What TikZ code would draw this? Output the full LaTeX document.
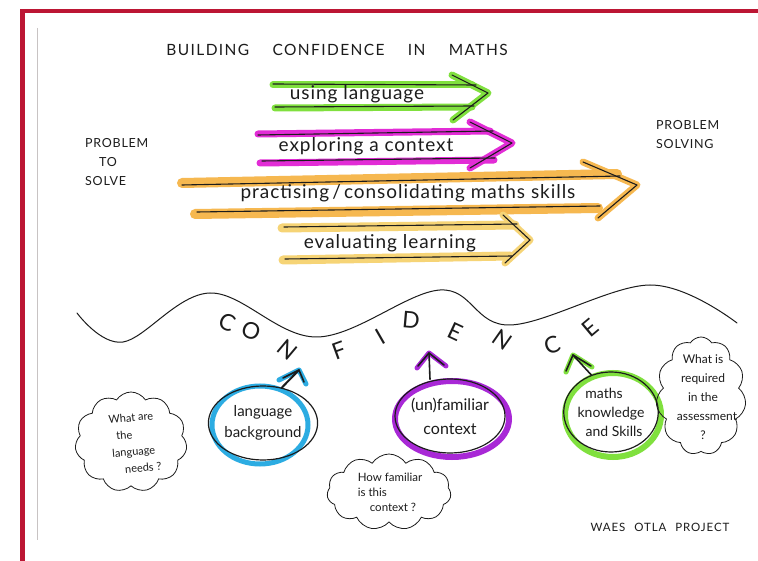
\documentclass[tikz,border=0pt]{standalone}
\usepackage{fontspec}
\setmainfont{Lato}
\usetikzlibrary{shapes.geometric,shapes.symbols,calc}

\definecolor{frame}{RGB}{188,22,52}
\definecolor{ink}{RGB}{28,28,28}
\definecolor{hlgreen}{RGB}{128,224,62}
\definecolor{hlmagenta}{RGB}{226,44,214}
\definecolor{hlorange}{RGB}{246,184,80}
\definecolor{hlyellow}{RGB}{246,212,118}
\definecolor{hlblue}{RGB}{44,172,226}
\definecolor{hlpurple}{RGB}{168,40,214}
\definecolor{paperedge}{RGB}{200,195,195}

\tikzset{
  hl/.style={line width=7pt, line cap=round, line join=round},
  pen/.style={draw=ink, line width=1.1pt, line cap=round, line join=round},
  thin pen/.style={draw=ink, line width=0.8pt, line cap=round, line join=round},
  hand/.style={text=ink, inner sep=0pt, font=\fontsize{19}{22}\selectfont\addfontfeature{LetterSpace=5}},
  caps/.style={text=ink, inner sep=0pt, font=\fontsize{12.5}{20}\selectfont\addfontfeature{LetterSpace=6}},
  bigletter/.style={text=ink, inner sep=0pt, font=\fontsize{23}{23}\selectfont},
  ring/.style={ellipse, draw=ink, line width=1.2pt, inner sep=0pt, align=center, text=ink},
  thought/.style={cloud, cloud puffs=11, cloud puff arc=115, cloud ignores aspect,
    draw=ink, line width=0.8pt, inner sep=0pt, align=center, text=ink},
  cloudtext/.style={text=ink, inner sep=0pt, font=\fontsize{11.5}{15}\selectfont},
}

\begin{document}
\begin{tikzpicture}[x=1pt,y=-1pt]
\useasboundingbox (0,0) rectangle (758,561);
\fill[white] (0,0) rectangle (758,561);

% frame and paper edge
\fill[frame] (20,9.5) rectangle (758,13);
\fill[frame] (20,9.5) rectangle (24.5,561);
\draw[paperedge, line width=0.8pt] (37,28) -- (37,540);

% heading
\node[caps, font=\fontsize{15.5}{20}\selectfont\addfontfeature{LetterSpace=9}] (title) at (337,50)
  {BUILDING\hspace{18pt} CONFIDENCE\hspace{18pt} IN\hspace{18pt} MATHS};

% start and goal
\node[caps, anchor=west, align=left] (start) at (85,162)
  {PROBLEM\\[-1pt]\hspace*{14pt}TO\\[-1pt]SOLVE};
\node[caps, anchor=west, align=left] (goal) at (656,135)
  {PROBLEM\\[-1pt]SOLVING};

% ---- using language (green)
\draw[hl, hlgreen] (273,85) -- (472,85);
\draw[hl, hlgreen] (275,108) -- (472,107);
\draw[hl, hlgreen] (452,75) -- (488,93) -- (453,120);
\draw[pen] (273,84) -- (476,85);
\draw[pen] (275,107) -- (474,106);
\draw[pen] (452,75) -- (488,93) -- (453,120);
\node[hand] (lang) at (357,94) {using language};

% ---- exploring a context (magenta)
\draw[hl, hlmagenta] (258,134) -- (490,131);
\draw[hl, hlmagenta] (260,163) -- (494,160);
\draw[hl, hlmagenta] (470,122) -- (512,143) -- (470,168);
\draw[pen] (258,135) -- (493,131);
\draw[pen] (262,161) -- (495,158);
\draw[pen] (470,122) -- (512,143) -- (470,168);
\node[hand] (ctx) at (366,146) {exploring a context};

% ---- practising / consolidating maths skills (orange)
\draw[hl, hlorange, line width=10pt] (182,183) -- (617,174);
\draw[hl, hlorange, line width=10pt] (195,214) -- (598,208);
\draw[hl, hlorange] (583,162) -- (637,185) -- (598,218);
\draw[pen] (182,185) -- (620,176);
\draw[pen] (197,212) -- (600,206);
\draw[pen] (583,162) -- (637,185) -- (598,218);
\node[hand] (skills) at (408,193) {practising\,/\,consolidating maths skills};

% ---- evaluating learning (yellow)
\draw[hl, hlyellow, line width=9pt] (282,228) -- (515,225);
\draw[hl, hlyellow, line width=9pt] (283,260) -- (510,256);
\draw[hl, hlyellow] (503,215) -- (530,240) -- (505,263);
\draw[pen] (284,227) -- (517,224);
\draw[pen] (285,259) -- (512,256);
\draw[pen] (503,215) -- (530,240) -- (505,263);
\node[hand] (eval) at (390,243) {evaluating learning};

% ---- confidence wave
\draw[thin pen, line width=1pt] plot[smooth, tension=0.6] coordinates
  {(77,313) (123,342) (210,293) (317,337) (440,290) (510,325) (650,285) (737,323)};

\node[bigletter, rotate=-25] (c1) at (227,322) {C};
\node[bigletter, rotate=-20] (c2) at (251,331) {O};
\node[bigletter, rotate=-40] (c3) at (288,350) {N};
\node[bigletter, rotate=20]  (c4) at (339,351) {F};
\node[bigletter, rotate=30]  (c5) at (380,337) {I};
\node[bigletter, rotate=-5]  (c6) at (411,320) {D};
\node[bigletter, rotate=-25] (c7) at (455,332) {E};
\node[bigletter, rotate=-35] (c8) at (502,340) {N};
\node[bigletter, rotate=20]  (c9) at (552,345) {C};
\node[bigletter, rotate=40]  (c10) at (590,328) {E};

% ---- language background (blue)
\draw[hlblue, line width=5pt] (260,425) ellipse [x radius=48, y radius=39];
\node[ring, minimum width=92pt, minimum height=74pt,
      font=\fontsize{15}{21}\selectfont] (bg) at (263,423) {language\\background};
\coordinate (bgtip) at (299,370);
\draw[hl, hlblue, line width=5pt] (279,380) -- (bgtip) -- (306,384);
\draw[pen, line width=2pt] (bg.62) -- (bgtip);
\draw[pen, line width=1.6pt] (283,378) -- (bgtip) -- (304,382);

% ---- (un)familiar context (purple)
\draw[hlpurple, line width=6pt] (452,419) ellipse [x radius=57, y radius=38];
\node[ring, minimum width=110pt, minimum height=74pt,
      font=\fontsize{16}{24}\selectfont] (fam) at (450,416) {(un)familiar\\context};
\coordinate (famtip) at (429,353);
\draw[hl, hlpurple, line width=5pt] (417,368) -- (famtip) -- (446,366);
\draw[pen, line width=1.6pt] (fam.north) ++(-20,1) -- (famtip);
\draw[pen, line width=1.6pt] (418,366) -- (famtip) -- (444,365);

% ---- maths knowledge and skills (green)
\draw[hlgreen, line width=6pt] (613,415) ellipse [x radius=48, y radius=42];
\node[ring, minimum width=90pt, minimum height=80pt,
      font=\fontsize{14}{19}\selectfont] (mk) at (611,412)
      {\hspace*{-14pt}maths\\knowledge\\\hspace*{6pt}and Skills};
\coordinate (mktip) at (573,355);
\draw[hl, hlgreen, line width=5pt] (566,372) -- (mktip) -- (592,367);
\draw[pen, line width=1.6pt] (mk.118) -- (mktip);
\draw[pen, line width=1.6pt] (566,371) -- (mktip) -- (591,366);

% ---- thought clouds
\node[thought, minimum width=112pt, minimum height=100pt] (q1) at (131,442) {};
\node[cloudtext, rotate=5, align=center, font=\fontsize{11}{17}\selectfont] (q1t) at (133,443)
      {What are\\\hspace*{-16pt}the\\language\\\hspace*{16pt}needs ?};

\node[thought, minimum width=124pt, minimum height=76pt] (q2) at (389,492) {};
\node[cloudtext, align=left] (q2t) at (390,492)
      {How familiar\\is this\\\hspace*{12pt}context ?};

\node[thought, minimum width=90pt, minimum height=118pt] (q3) at (701,396) {};
\node[cloudtext, align=center, font=\fontsize{12}{19}\selectfont] (q3t) at (703,397)
      {What is\\required\\in the\\\hspace*{8pt}assessment\\?};

% ---- credit
\node[caps, font=\fontsize{11.5}{14}\selectfont\addfontfeature{LetterSpace=8}] (credit) at (660,527)
  {WAES\hspace{5pt} OTLA\hspace{5pt} PROJECT};
\end{tikzpicture}
\end{document}
